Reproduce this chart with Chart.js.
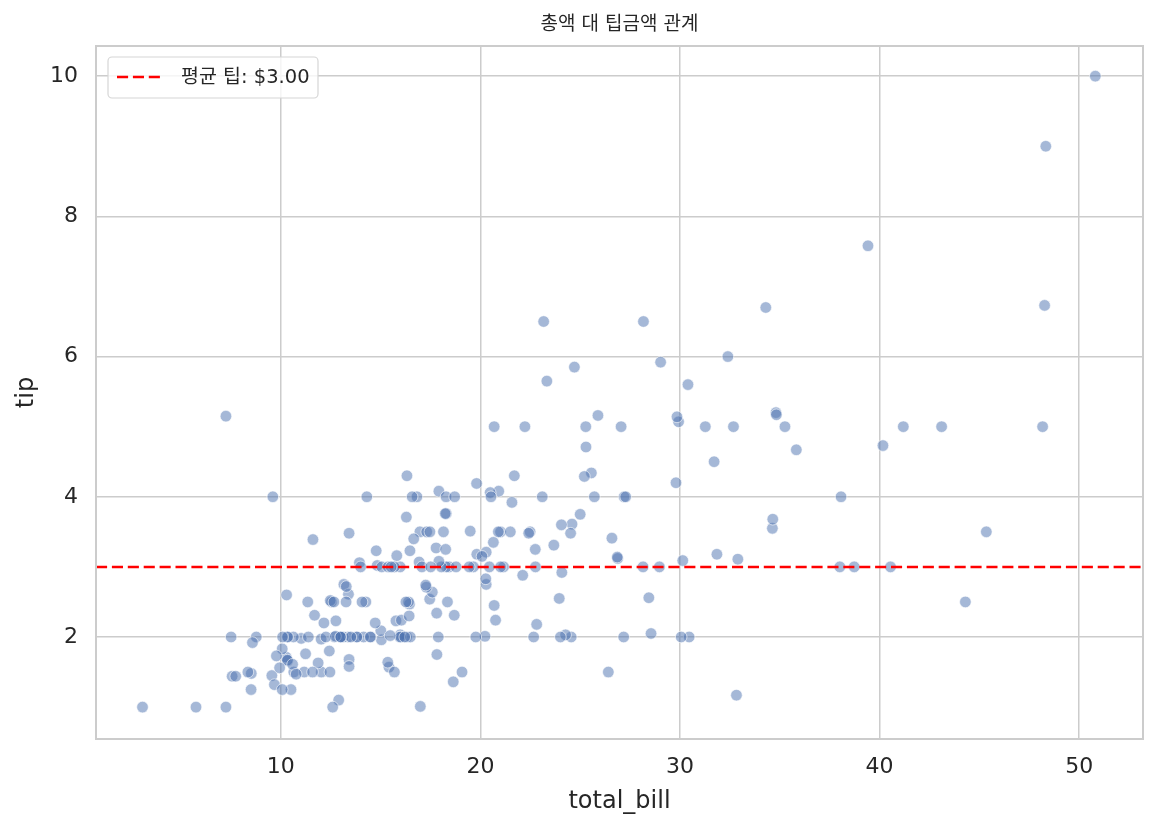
<!DOCTYPE html>
<html>
<head>
<meta charset="utf-8">
<script src="https://cdn.jsdelivr.net/npm/chart.js@4/dist/chart.umd.min.js"></script>
<style>
  html, body { margin: 0; padding: 0; background: #fff; }
  #wrap { width: 1157px; height: 830px; }
</style>
</head>
<body>
<div id="wrap"><canvas id="chart" width="1157" height="830"></canvas></div>
<script>
// ===== DADOS (tips) =====
const totalBill = [16.99,10.34,21.01,23.68,24.59,25.29,8.77,26.88,15.04,14.78,10.27,35.26,15.42,18.43,14.83,21.58,10.33,16.29,16.97,20.65,
  17.92,20.29,15.77,39.42,19.82,17.81,13.37,12.69,21.70,19.65,9.55,18.35,15.06,20.69,17.78,24.06,16.31,16.93,18.69,31.27,
  16.04,17.46,13.94,9.68,30.40,18.29,22.23,32.40,28.55,18.04,12.54,10.29,34.81,9.94,25.56,19.49,38.01,26.41,11.24,48.27,
  20.29,13.81,11.02,18.29,17.59,20.08,16.45,3.07,20.23,15.01,12.02,17.07,26.86,25.28,14.73,10.51,17.92,27.20,22.76,17.29,
  19.44,16.66,10.07,32.68,15.98,34.83,13.03,18.28,24.71,21.16,28.97,22.49,5.75,16.32,22.75,40.17,27.28,12.03,21.01,12.46,
  11.35,15.38,44.30,22.42,20.92,15.36,20.49,25.21,18.24,14.31,14.00,7.25,38.07,23.95,25.71,17.31,29.93,10.65,12.43,24.08,
  11.69,13.42,14.26,15.95,12.48,29.80,8.52,14.52,11.38,22.82,19.08,20.27,11.17,12.26,18.26,8.51,10.33,14.15,16.00,13.16,
  17.47,34.30,41.19,27.05,16.43,8.35,18.64,11.87,9.78,7.51,14.07,13.13,17.26,24.55,19.77,29.85,48.17,25.00,13.39,16.49,
  21.50,12.66,16.21,13.81,17.51,24.52,20.76,31.71,10.59,10.63,50.81,15.81,7.25,31.85,16.82,32.90,17.89,14.48,9.60,34.63,
  34.65,23.33,45.35,23.17,40.55,20.69,20.90,30.46,18.15,23.10,15.69,19.81,28.44,15.48,16.58,7.56,10.34,43.11,13.00,13.51,
  18.71,12.74,13.00,16.40,20.53,16.47,26.59,38.73,24.27,12.76,30.06,25.89,48.33,13.27,28.17,12.90,28.15,11.59,7.74,30.14,
  12.16,13.42,8.58,15.98,13.42,16.27,10.09,20.45,13.28,22.12,24.01,15.69,11.61,10.77,15.53,10.07,12.60,32.83,35.83,29.03,
  27.18,22.67,17.82,18.78];
const tip = [1.01,1.66,3.50,3.31,3.61,4.71,2.00,3.12,1.96,3.23,1.71,5.00,1.57,3.00,3.02,3.92,1.67,3.71,3.50,3.35,
  4.08,2.75,2.23,7.58,3.18,2.34,2.00,2.00,4.30,3.00,1.45,2.50,3.00,2.45,3.27,3.60,2.00,3.07,2.31,5.00,
  2.24,2.54,3.06,1.32,5.60,3.00,5.00,6.00,2.05,3.00,2.50,2.60,5.20,1.56,4.34,3.51,3.00,1.50,1.76,6.73,
  3.21,2.00,1.98,3.76,2.64,3.15,2.47,1.00,2.01,2.09,1.97,3.00,3.14,5.00,2.20,1.25,3.08,4.00,3.00,2.71,
  3.00,3.40,1.83,5.00,2.03,5.17,2.00,4.00,5.85,3.00,3.00,3.50,1.00,4.30,3.25,4.73,4.00,1.50,3.00,1.50,
  2.50,3.00,2.50,3.48,4.08,1.64,4.06,4.29,3.76,4.00,3.00,1.00,4.00,2.55,4.00,3.50,5.07,1.50,1.80,2.92,
  2.31,1.68,2.50,2.00,2.52,4.20,1.48,2.00,2.00,2.18,1.50,2.83,1.50,2.00,3.25,1.25,2.00,2.00,2.00,2.75,
  3.50,6.70,5.00,5.00,2.30,1.50,1.36,1.63,1.73,2.00,2.50,2.00,2.74,2.00,2.00,5.14,5.00,3.75,2.61,2.00,
  3.50,2.50,2.00,2.00,3.00,3.48,2.24,4.50,1.61,2.00,10.00,3.16,5.15,3.18,4.00,3.11,2.00,2.00,4.00,3.55,
  3.68,5.65,3.50,6.50,3.00,5.00,3.50,2.00,3.50,4.00,1.50,4.19,2.56,2.02,4.00,1.44,2.00,5.00,2.00,2.00,
  4.00,2.01,2.00,2.50,4.00,3.23,3.41,3.00,2.03,2.23,2.00,5.16,9.00,2.50,6.50,1.10,3.00,1.50,1.44,3.09,
  2.20,3.48,1.92,3.00,1.58,2.50,2.00,3.00,2.72,2.88,2.00,3.00,3.39,1.47,3.00,1.25,1.00,1.17,4.67,5.92,
  2.00,2.00,1.75,3.00];
const xTicks = [10, 20, 30, 40, 50];
const yTicks = [2, 4, 6, 8, 10];
const tituloGrafico = '총액 대 팁금액 관계';

const mediaTip = tip.reduce((a, b) => a + b, 0) / tip.length;
const labelMedia = `평균 팁: $${mediaTip.toFixed(2)}`;

const X_MIN = 0.74, X_MAX = 53.2, Y_MIN = 0.545, Y_MAX = 10.43;
const FONT = "'DejaVu Sans', 'Noto Sans CJK KR', sans-serif";
const TXT = '#262626';
const GRID = '#cccccc';
const DASH = [11.1, 4.8];

// ===== PLUGIN: titulo, moldura e legenda =====
const extras = {
  id: 'extras',
  afterDatasetsDraw(chart) {
    const { ctx, chartArea: a } = chart;
    ctx.save();
    // moldura
    ctx.strokeStyle = GRID;
    ctx.lineWidth = 2;
    ctx.strokeRect(a.left, a.top, a.right - a.left, a.bottom - a.top);

    // legenda
    const lx = 108, ly = 57, lw = 210, lh = 41;
    ctx.beginPath();
    ctx.roundRect(lx, ly, lw, lh, 4);
    ctx.fillStyle = 'rgba(255,255,255,0.8)';
    ctx.fill();
    ctx.strokeStyle = '#d6d6d6';
    ctx.lineWidth = 1.2;
    ctx.stroke();

    ctx.beginPath();
    ctx.setLineDash(DASH);
    ctx.strokeStyle = '#ff0000';
    ctx.lineWidth = 2.5;
    ctx.moveTo(117, 77);
    ctx.lineTo(162, 77);
    ctx.stroke();
    ctx.setLineDash([]);

    ctx.fillStyle = TXT;
    ctx.font = `19.5px ${FONT}`;
    ctx.textAlign = 'left';
    ctx.textBaseline = 'middle';
    ctx.fillText(labelMedia, 181, 78);

    // titulo
    ctx.font = `19px ${FONT}`;
    ctx.textAlign = 'center';
    ctx.fillText(tituloGrafico, (a.left + a.right) / 2, 25);
    ctx.restore();
  }
};

// ===== GRAFICO =====
const ctx = document.getElementById('chart').getContext('2d');
const chart = new Chart(ctx, {
  type: 'scatter',
  data: {
    datasets: [
      {
        type: 'line',
        label: labelMedia,
        data: [{ x: X_MIN, y: mediaTip }, { x: X_MAX, y: mediaTip }],
        borderColor: '#ff0000',
        borderWidth: 2.5,
        borderDash: DASH,
        pointRadius: 0,
        fill: false,
        order: 0
      },
      {
        label: 'tips',
        data: totalBill.map((v, i) => ({ x: v, y: tip[i] })),
        backgroundColor: 'rgba(76,114,176,0.5)',
        borderColor: 'rgba(255,255,255,0.6)',
        borderWidth: 1,
        pointRadius: 5.8,
        order: 1
      }
    ]
  },
  options: {
    responsive: false,
    animation: false,
    layout: { padding: { left: 0, right: 14, top: 46, bottom: 0 } },
    plugins: {
      legend: { display: false },
      title: { display: false },
      tooltip: { enabled: false }
    },
    scales: {
      x: {
        type: 'linear',
        min: X_MIN,
        max: X_MAX,
        afterBuildTicks: s => { s.ticks = xTicks.map(v => ({ value: v })); },
        afterFit: s => { s.height = 91; },
        grid: { color: GRID, lineWidth: 1.5, drawTicks: false },
        border: { display: false },
        ticks: { color: TXT, font: { family: FONT, size: 22 }, padding: 15 },
        title: { display: true, text: 'total_bill', color: TXT, font: { family: FONT, size: 24 }, padding: { bottom: 14 } }
      },
      y: {
        type: 'linear',
        min: Y_MIN,
        max: Y_MAX,
        afterBuildTicks: s => { s.ticks = yTicks.map(v => ({ value: v })); },
        afterFit: s => { s.width = 96; },
        grid: { color: GRID, lineWidth: 1.5, drawTicks: false },
        border: { display: false },
        ticks: { color: TXT, font: { family: FONT, size: 22 }, padding: 18 },
        title: { display: true, text: 'tip', color: TXT, font: { family: FONT, size: 24 }, padding: { top: 12 } }
      }
    }
  },
  plugins: [extras]
});
</script>
</body>
</html>
